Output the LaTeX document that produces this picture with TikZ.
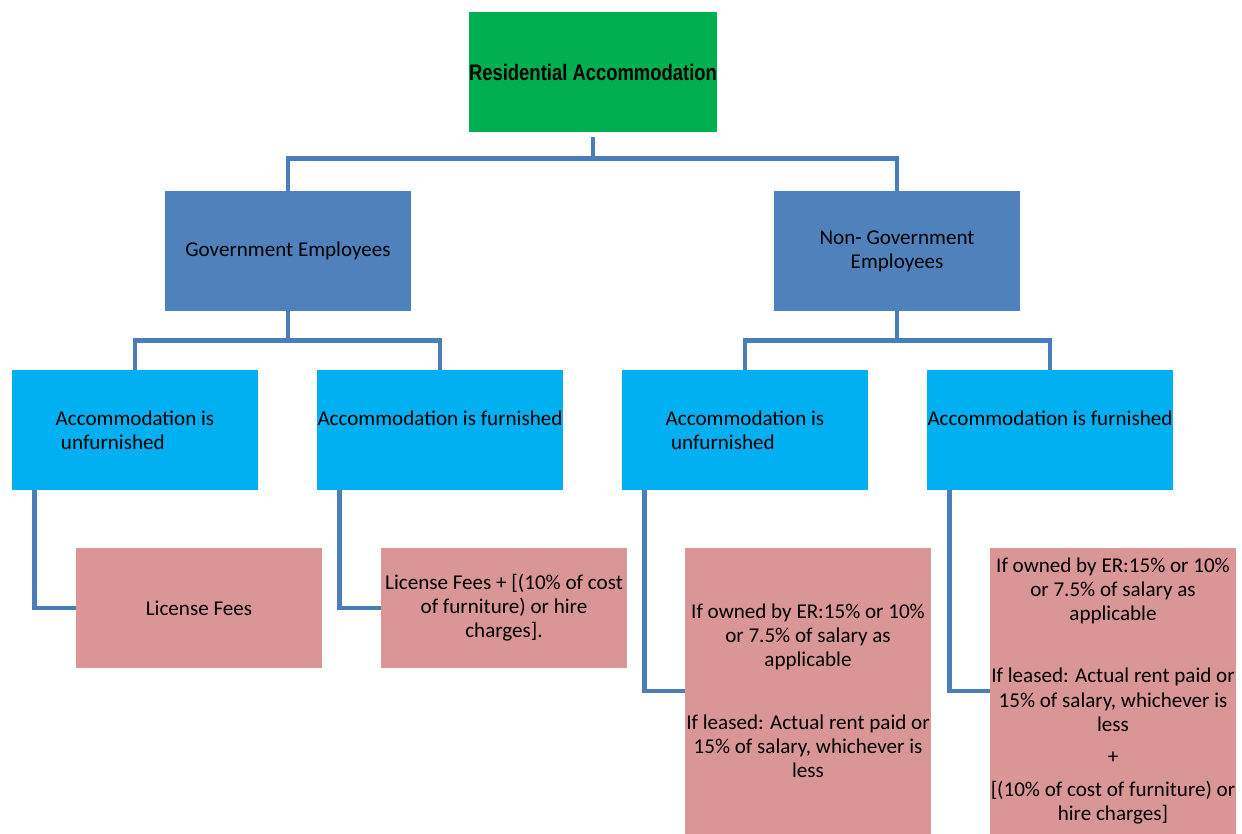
\documentclass[tikz,border=0pt]{standalone}
\usepackage{fontspec}
\setmainfont{Carlito}
\newfontfamily\narrowbold[FakeStretch=0.82]{Liberation Sans Bold}
\definecolor{rootgreen}{HTML}{00B050}
\definecolor{catblue}{HTML}{4F81BD}
\definecolor{caseblue}{HTML}{00B0F0}
\definecolor{valpink}{HTML}{D99694}
\definecolor{linkblue}{HTML}{4A7EBB}
\begin{document}
\begin{tikzpicture}[x=0.02cm, y=-0.02cm]
    \tikzstyle{box} = [rectangle, inner sep=0pt, minimum width=4.92cm, minimum height=2.4cm, align=center, font=\fontsize{12}{13.7}\selectfont]
    \tikzstyle{rootbox} = [box, fill=rootgreen, font=\fontsize{12.8}{14}\narrowbold]
    \tikzstyle{catbox} = [box, fill=catblue]
    \tikzstyle{casebox} = [box, fill=caseblue]
    \tikzstyle{valbox} = [box, fill=valpink]
    \tikzstyle{tallbox} = [valbox, minimum height=5.72cm]
    \tikzstyle{link} = [draw=linkblue, line width=2.6pt]
    \useasboundingbox (0,0) rectangle (1242,834);
    \node[rootbox] (res) at (593, 72) {Residential Accommodation};
    \node[catbox] (gov) at (288, 251) {Government Employees};
    \node[catbox] (nongov) at (897, 251) {Non- Government\\Employees};
    \node[casebox, align=left] (govunf) at (135, 430) {Accommodation is\\\hspace{0.25em}unfurnished};
    \node[casebox] (govfur) at (440, 430) {Accommodation is furnished\\\mbox{}};
    \node[casebox, align=left] (ngunf) at (745, 430) {Accommodation is\\\hspace{0.25em}unfurnished};
    \node[casebox] (ngfur) at (1050, 430) {Accommodation is furnished\\\mbox{}};
    \node[valbox] (govunfval) at (199, 608) {License Fees};
    \node[valbox] (govfurval) at (504, 608) {License Fees + [(10\% of cost\\of furniture) or hire\\charges].};
    \node[tallbox] (ngunfval) at (808, 691) {If owned by ER:15\% or 10\%\\or 7.5\% of salary as\\applicable\\[22pt]If leased: Actual rent paid or\\15\% of salary, whichever is\\less};
    \node[tallbox] (ngfurval) at (1113, 691) {If owned by ER:15\% or 10\%\\or 7.5\% of salary as\\applicable\\[22pt]If leased: Actual rent paid or\\15\% of salary, whichever is\\less\\[5pt]+\\[5pt][(10\% of cost of furniture) or\\hire charges]};
    % tree connectors
    \draw[link] ([yshift=-0.1cm]res.south) -- ++(0, 21) -| (gov.north);
    \draw[link] ([yshift=-0.1cm]res.south) -- ++(0, 21) -| (nongov.north);
    \draw[link] (gov.south) -- ++(0, 29) -| (govunf.north);
    \draw[link] (gov.south) -- ++(0, 29) -| (govfur.north);
    \draw[link] (nongov.south) -- ++(0, 29) -| (ngunf.north);
    \draw[link] (nongov.south) -- ++(0, 29) -| (ngfur.north);
    \draw[link] ([xshift=0.46cm]govunf.south west) |- (govunfval.west);
    \draw[link] ([xshift=0.46cm]govfur.south west) |- (govfurval.west);
    \draw[link] ([xshift=0.46cm]ngunf.south west) |- (ngunfval.west);
    \draw[link] ([xshift=0.46cm]ngfur.south west) |- (ngfurval.west);
\end{tikzpicture}
\end{document}
